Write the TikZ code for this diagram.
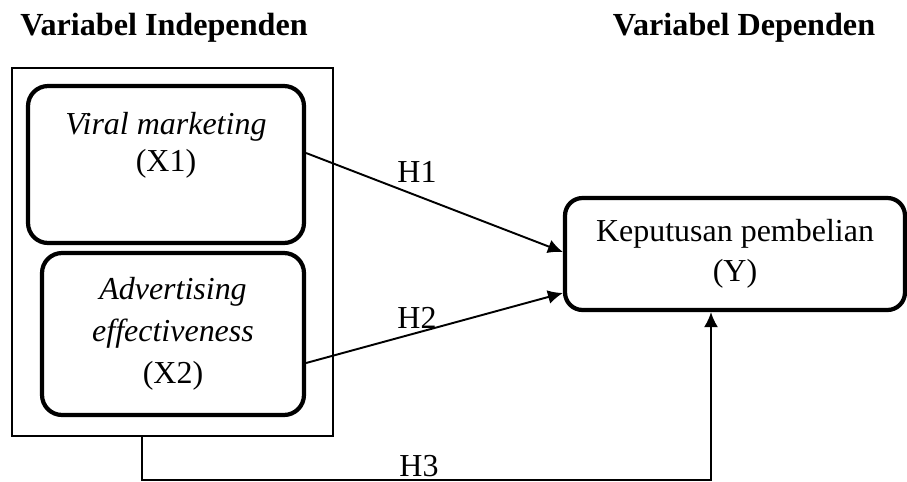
\documentclass[tikz,border=0pt]{standalone}
\usepackage{fontspec}
\setmainfont{Liberation Serif}
\usetikzlibrary{arrows.meta,positioning}

\begin{document}
\begin{tikzpicture}[
  x=0.02cm,y=-0.02cm,
  txt/.style={inner sep=1pt,align=center,font=\fontsize{18.2}{21}\selectfont},
  head/.style={inner sep=0pt,font=\fontsize{18.3}{21}\selectfont\bfseries},
  frame/.style={draw,line width=.85pt,inner sep=0pt},
  varbox/.style={draw,line width=2.4pt,rounded corners=4mm,inner sep=0pt,align=center},
  arr/.style={-{Latex[length=3mm,width=2.8mm]},line width=1.1pt}
]
\useasboundingbox (0,0) rectangle (907,481);
% titles
\node[head,anchor=base] (tind) at (164,35) {Variabel Independen};
\node[head,anchor=base] (tdep) at (744,35) {Variabel Dependen};
% independent side
\node[frame,minimum width=6.42cm,minimum height=7.36cm] (indep) at (172.5,252) {};
\node[varbox,minimum width=5.52cm,minimum height=3.14cm] (x1) at (166,164.5) {};
\node[txt] (x1txt) at (166,145) {\textit{Viral marketing}\\(X1)};
\node[varbox,minimum width=5.24cm,minimum height=3.24cm,
  font=\fontsize{18.2}{24}\selectfont] (x2) at (173,334)
  {\textit{Advertising}\\\textit{effectiveness}\\(X2)};
% dependent side
\node[varbox,rounded corners=3.5mm,minimum width=6.8cm,minimum height=2.24cm,
  font=\fontsize{18.2}{23}\selectfont] (y) at (735,254) {Keputusan pembelian\\(Y)};
% hypotheses
\draw[arr] ([yshift=2.3mm]x1.east) -- ([yshift=.4mm]y.west);
\draw[arr] ([yshift=-5.8mm]x2.east) -- ([yshift=-7.8mm]y.west);
\draw[arr] ([xshift=-6.1mm]indep.south) -- ++(0,43) -| ([xshift=-4.8mm]y.south);
\node[txt] (h1) at (417,172) {H1};
\node[txt] (h2) at (417,318) {H2};
\node[txt] (h3) at (419,466) {H3};
\end{tikzpicture}
\end{document}
